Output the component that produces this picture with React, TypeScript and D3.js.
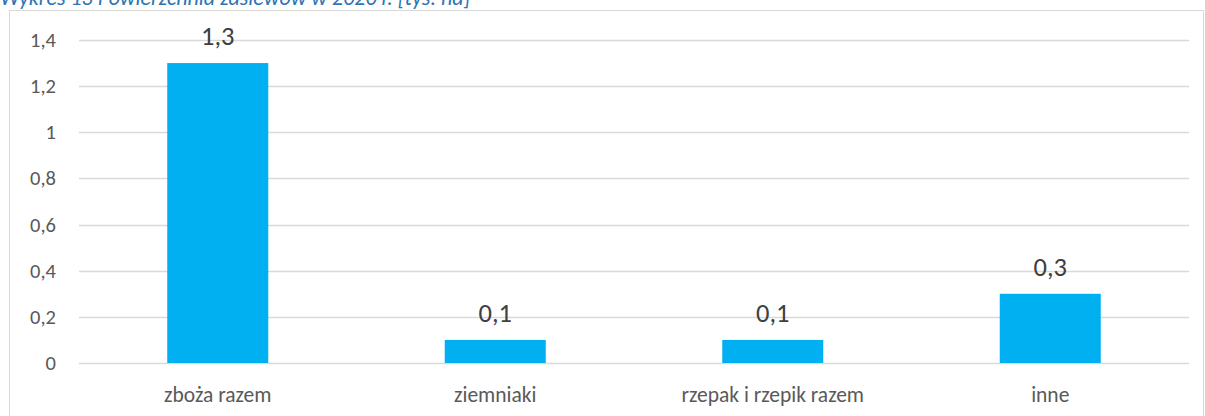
import React from 'react';
import * as d3 from 'd3';

const categories: string[] = ['zboża razem', 'ziemniaki', 'rzepak i rzepik razem', 'inne'];
const values: number[] = [1.3, 0.1, 0.1, 0.3];
const yTicks: number[] = [0, 0.2, 0.4, 0.6, 0.8, 1, 1.2, 1.4];
const title = 'Wykres 13 Powierzchnia zasiewów w 2020 r. [tys. ha]';

const W = 1205;
const H = 416;
const font = 'Carlito, Calibri, Lato, sans-serif';
const fmt = (v: number) => d3.format('.1f')(v).replace('.', ',').replace(/,0$/, '');

function App() {
    const x = d3.scaleBand<string>()
        .domain(categories)
        .range([79, 1189])
        .paddingInner(0.636)
        .paddingOuter(0.318);
    const y = d3.scaleLinear().domain([0, 1.4]).range([363, 40]);
    const cx = (c: string) => (x(c) ?? 0) + x.bandwidth() / 2;

    return (
        <svg width={W} height={H} style={{ position: 'absolute', left: 0, top: 0 }} fontFamily={font}>
            <rect x={0} y={0} width={W} height={H} fill="#fff" />
            <text x={0} y={5} fontSize={22} fontStyle="italic" fill="#2E74B5">{title}</text>
            <rect x={9.5} y={10.5} width={1194} height={420} fill="none" stroke="#D9D9D9" />
            {yTicks.map(t => (
                <g key={t}>
                    <line x1={79} x2={1189} y1={Math.round(y(t)) + 0.5} y2={Math.round(y(t)) + 0.5}
                        stroke="#D9D9D9" strokeWidth={1.5} />
                    <text x={56} y={y(t) + 7} textAnchor="end" fontSize={20.5} fill="#595959">{fmt(t)}</text>
                </g>
            ))}
            {categories.map((c, i) => (
                <g key={c}>
                    <rect x={x(c)} y={y(values[i])} width={x.bandwidth()} height={y(0) - y(values[i])} fill="#00B0F0" />
                    <text x={cx(c)} y={y(values[i]) - 18} textAnchor="middle"
                        fontSize={26.5} fill="#404040">{fmt(values[i])}</text>
                    <text x={cx(c)} y={402} textAnchor="middle"
                        fontSize={21.5} fill="#595959">{c}</text>
                </g>
            ))}
        </svg>
    );
}

export default App;
